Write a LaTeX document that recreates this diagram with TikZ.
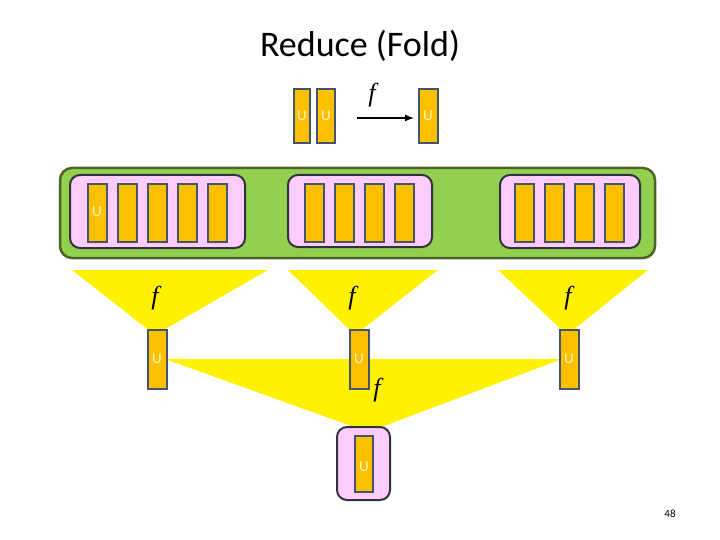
\documentclass[tikz,border=0pt]{standalone}
\usepackage{fontspec}
\setmainfont{Carlito}
\newfontfamily\ffam{Liberation Serif}
\begin{document}
\begin{tikzpicture}[x=1pt,y=-1pt,
 bar/.style={fill={rgb,255:red,255;green,192;blue,0},draw={rgb,255:red,68;green,84;blue,106},line width=2pt},
 pinkbox/.style={fill={rgb,255:red,255;green,204;blue,255},draw={rgb,255:red,50;green,50;blue,60},line width=2pt,rounded corners=10pt},
 tri/.style={fill=yellow,draw=none},
 ulab/.style={text={rgb,255:red,255;green,245;blue,200},font=\fontsize{15}{15}\selectfont,inner sep=0pt},
 flab/.style={font=\ffam\itshape\fontsize{26}{26}\selectfont,inner sep=0pt}]
\useasboundingbox (0,0) rectangle (720,540);
\node (title) at (360,46) {\fontsize{36}{36}\selectfont Reduce (Fold)};
% top
\draw[bar] (294,89) rectangle (310,143);
\node[ulab] (ua) at (302,116) {U};
\draw[bar] (317,89) rectangle (335,143);
\node[ulab] (ub) at (326,116) {U};
\node[flab] (ftop) at (372,95) {f};
\coordinate (as) at (357,118);
\coordinate (ae) at (414,118);
\draw[line width=2pt,-latex] (as) -- (ae);
\draw[bar] (419,89) rectangle (438,143);
\node[ulab] (uc) at (428,116) {U};
% green
\draw[fill={rgb,255:red,146;green,208;blue,80},draw={rgb,255:red,79;green,98;blue,40},line width=2.5pt,rounded corners=12pt] (60,168) rectangle (655,258);
\draw[pinkbox] (70,175) rectangle (245,248);
\draw[pinkbox] (288,175) rectangle (432,247);
\draw[pinkbox] (500,175) rectangle (640,248);
\foreach \x in {88,118,148,178,208} \draw[bar] (\x,184) rectangle (\x+19,242);
\foreach \x in {305,335,365,395} \draw[bar] (\x,184) rectangle (\x+19,242);
\foreach \x in {515,545,575,605} \draw[bar] (\x,184) rectangle (\x+19,242);
\node[ulab] (u0) at (97,212) {U};
% triangles
\fill[tri] (72,270) -- (268,270) -- (155,335) -- cycle;
\fill[tri] (288,270) -- (438,270) -- (355,335) -- cycle;
\fill[tri] (498,270) -- (648,270) -- (567,335) -- cycle;
\fill[tri] (165,359) -- (562,359) -- (368,432) -- cycle;
\node[flab] (f1) at (155,298) {f};
\node[flab] (f2) at (352,298) {f};
\node[flab] (f3) at (568,298) {f};
\node[flab] (f4) at (377,390) {f};
\draw[bar] (148,330) rectangle (167,389);
\node[ulab] (u1) at (157,359) {U};
\draw[bar] (350,330) rectangle (369,389);
\node[ulab] (u2) at (359,359) {U};
\draw[bar] (560,330) rectangle (579,389);
\node[ulab] (u3) at (569,359) {U};
\draw[pinkbox] (337,427) rectangle (390,500);
\draw[bar] (355,436) rectangle (373,492);
\node[ulab] (u4) at (364,467) {U};
\node (pg) at (670,514) {\fontsize{11}{11}\selectfont 48};
\end{tikzpicture}
\end{document}
